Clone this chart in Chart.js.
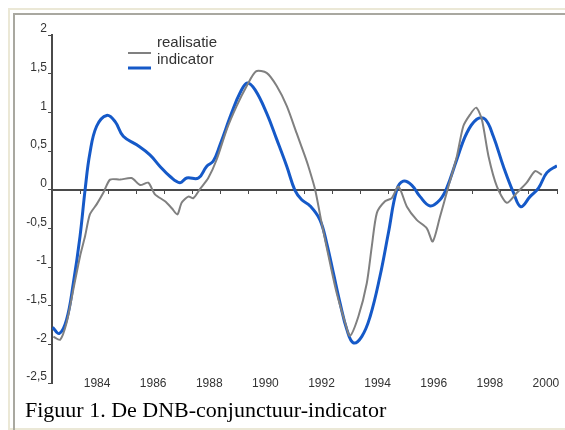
<!DOCTYPE html>
<html>
<head>
<meta charset="utf-8">
<script src="https://cdn.jsdelivr.net/npm/chart.js@4"></script>
<style>
  html, body { margin: 0; padding: 0; background: #ffffff; }
  body { width: 565px; height: 430px; position: relative; overflow: hidden; }
  #outer { position: absolute; left: 8px; top: 8px; width: 620px; height: 418px;
           border-top: 2px solid #ebe8d6; border-left: 2px solid #ebe8d6; border-bottom: 2px solid #ebe8d6; }
  #inner { position: absolute; left: 13px; top: 13px; width: 620px; height: 420px;
           border-top: 2px solid #a9a8a0; border-left: 2px solid #a9a8a0; }
  #chart { position: absolute; left: 0; top: 0; }
  #caption { position: absolute; left: 25px; top: 399px; font-family: "Liberation Serif", "Times New Roman", serif;
             font-size: 22px; line-height: 22px; color: #000; white-space: nowrap; }
</style>
</head>
<body>
<div id="outer"></div>
<div id="inner"></div>
<canvas id="chart" width="565" height="400"></canvas>
<div id="caption">Figuur 1. De DNB-conjunctuur-indicator</div>
<script>
// ---- data ----
const realisatieYears = [1983.05,1983.29,1983.52,1983.76,1984.0,1984.18,1984.35,1984.59,1984.83,1985.07,1985.43,1985.84,1986.14,1986.43,1986.67,1987.03,1987.27,1987.47,1987.62,1987.86,1988.04,1988.28,1988.57,1988.87,1989.23,1989.58,1989.94,1990.27,1990.65,1991.01,1991.37,1991.72,1992.0,1992.14,1992.38,1992.61,1992.91,1993.15,1993.45,1993.62,1993.92,1994.22,1994.40,1994.58,1994.87,1995.11,1995.35,1995.65,1996.00,1996.36,1996.57,1996.83,1997.13,1997.43,1997.66,1997.90,1998.12,1998.32,1998.56,1998.86,1999.21,1999.57,1999.92,2000.22,2000.46];
const realisatieValues = [-1.90,-1.94,-1.72,-1.29,-0.86,-0.60,-0.32,-0.19,-0.04,0.13,0.13,0.15,0.06,0.09,-0.06,-0.15,-0.24,-0.32,-0.17,-0.09,-0.11,0.01,0.15,0.39,0.78,1.08,1.34,1.53,1.51,1.34,1.08,0.73,0.45,0.30,0.0,-0.43,-0.95,-1.34,-1.72,-1.89,-1.64,-1.21,-0.73,-0.30,-0.15,-0.11,0.04,-0.22,-0.39,-0.50,-0.67,-0.35,0.04,0.43,0.82,0.97,1.06,0.91,0.43,0.04,-0.17,-0.04,0.09,0.24,0.19];

const indicatorYears = [1983.02,1983.26,1983.52,1983.76,1984.0,1984.18,1984.35,1984.59,1984.95,1985.25,1985.54,1986.02,1986.49,1986.85,1987.21,1987.56,1987.80,1988.22,1988.51,1988.75,1988.99,1989.40,1989.70,1989.96,1990.24,1990.65,1991.01,1991.37,1991.66,1991.90,1992.20,1992.55,1992.79,1993.03,1993.27,1993.51,1993.74,1994.04,1994.34,1994.69,1994.99,1995.29,1995.52,1995.82,1996.12,1996.48,1996.83,1997.07,1997.43,1997.78,1998.14,1998.44,1998.73,1999.09,1999.45,1999.71,2000.04,2000.34,2000.64,2001.0];
const indicatorValues = [-1.78,-1.86,-1.68,-1.21,-0.60,0.0,0.47,0.82,0.96,0.88,0.69,0.58,0.45,0.30,0.17,0.09,0.15,0.15,0.30,0.37,0.58,0.99,1.25,1.38,1.29,0.99,0.65,0.30,-0.01,-0.13,-0.21,-0.39,-0.69,-1.08,-1.47,-1.81,-1.98,-1.90,-1.64,-1.12,-0.56,0.0,0.11,0.06,-0.09,-0.21,-0.13,0.02,0.39,0.73,0.91,0.91,0.69,0.30,-0.04,-0.22,-0.09,0.02,0.22,0.31];

const yearLabels = [1984,1986,1988,1990,1992,1994,1996,1998,2000];
const yearTicks = [1984,1985,1986,1987,1988,1989,1990,1991,1992,1993,1994,1995,1996,1997,1998,1999,2000,2001];
const yTickValues = [2,1.5,1,0.5,0,-0.5,-1,-1.5,-2,-2.5];
const seriesNames = ['realisatie','indicator'];

const toPoints = (xs, ys) => xs.map((x, i) => ({ x: x, y: ys[i] }));

const legendPlugin = {
  id: 'customLegend',
  afterDraw(chart) {
    const ctx = chart.ctx;
    ctx.save();
    const rows = [ { ds: 0, textY: 43, lineY: 53 }, { ds: 1, textY: 60, lineY: 68 } ];
    rows.forEach(r => {
      const ds = chart.data.datasets[r.ds];
      ctx.strokeStyle = ds.borderColor;
      ctx.lineWidth = ds.borderWidth;
      ctx.beginPath();
      ctx.moveTo(128, r.lineY);
      ctx.lineTo(151, r.lineY);
      ctx.stroke();
      ctx.fillStyle = '#333';
      ctx.font = '15px "Liberation Sans", Arial, sans-serif';
      ctx.textBaseline = 'middle';
      ctx.textAlign = 'left';
      ctx.fillText(ds.label, 157, r.textY);
    });
    ctx.restore();
  }
};

new Chart(document.getElementById('chart'), {
  type: 'line',
  data: {
    datasets: [
      { label: seriesNames[0], data: toPoints(realisatieYears, realisatieValues),
        borderColor: '#808080', borderWidth: 2, pointRadius: 0, tension: 0.25, fill: false },
      { label: seriesNames[1], data: toPoints(indicatorYears, indicatorValues),
        borderColor: '#1559c8', borderWidth: 3, pointRadius: 0, tension: 0.4, fill: false }
    ]
  },
  options: {
    responsive: false,
    animation: false,
    devicePixelRatio: 1,
    layout: { padding: { left: 0, right: 8, top: 35, bottom: 17 } },
    plugins: { legend: { display: false }, tooltip: { enabled: false } },
    scales: {
      x: {
        type: 'linear', position: { y: -2.5 }, min: 1983, max: 2001,
        afterBuildTicks: s => { s.ticks = yearLabels.map(v => ({ value: v })); },
        border: { display: false },
        grid: { display: false, drawTicks: false },
        ticks: { padding: -7, labelOffset: 17, color: '#333', maxRotation: 0, autoSkip: false,
                 font: { family: '"Liberation Sans", Arial, sans-serif', size: 12 },
                 callback: v => String(v) }
      },
      x2: {
        type: 'linear', axis: 'x', position: { y: 0 }, min: 1983, max: 2001,
        afterBuildTicks: s => { s.ticks = yearTicks.map(v => ({ value: v })); },
        border: { display: true, color: '#4a4a4a', width: 2 },
        grid: { display: true, drawOnChartArea: false, drawTicks: true, tickLength: 3, color: '#4a4a4a', lineWidth: 1 },
        ticks: { display: false }
      },
      y: {
        type: 'linear', min: -2.5, max: 2,
        afterFit: s => { s.width = 52; },
        afterBuildTicks: s => { s.ticks = yTickValues.map(v => ({ value: v })); },
        border: { display: true, color: '#4a4a4a', width: 2 },
        grid: { display: true, drawOnChartArea: false, drawTicks: true, tickLength: 4, color: '#4a4a4a' },
        ticks: { padding: 1, labelOffset: -6, color: '#333',
                 font: { family: '"Liberation Sans", Arial, sans-serif', size: 12 },
                 callback: v => String(v).replace('.', ',') }
      }
    }
  },
  plugins: [legendPlugin]
});
</script>
</body>
</html>
